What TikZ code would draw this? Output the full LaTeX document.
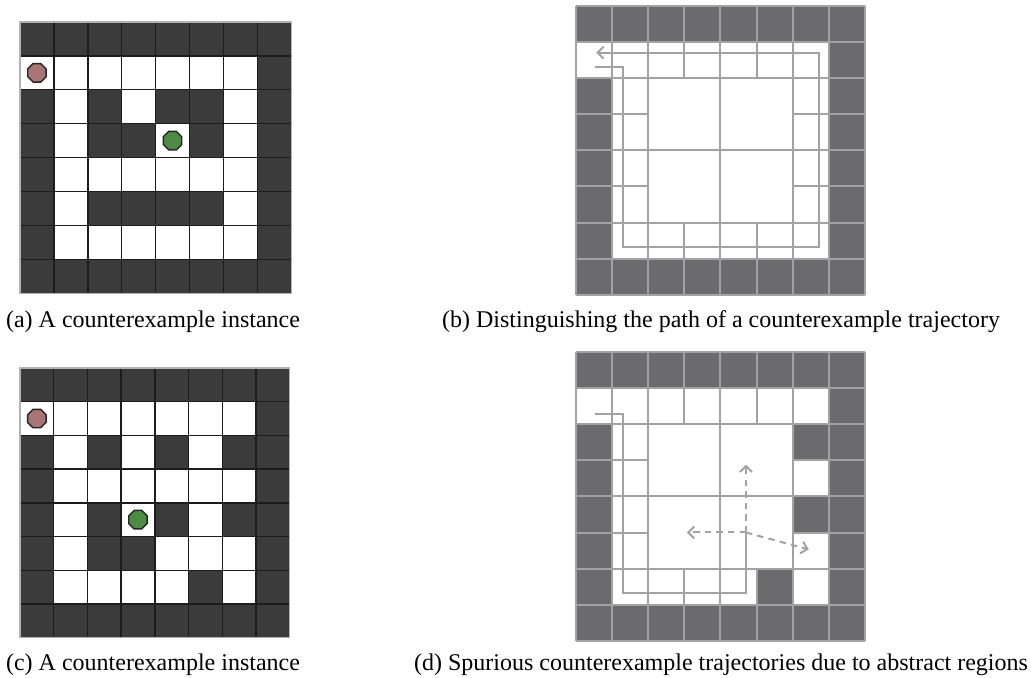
\documentclass[tikz,border=0pt]{standalone}
\usepackage{fontspec}
\setmainfont{Liberation Serif}
\usetikzlibrary{arrows.meta,shapes.geometric}
\definecolor{wallA}{HTML}{3B3B3B}
\definecolor{lineA}{HTML}{1C1C1C}
\definecolor{wallB}{HTML}{6B6B6D}
\definecolor{lineB}{HTML}{A2A2A2}
\definecolor{agentcol}{HTML}{A87474}
\definecolor{goalcol}{HTML}{4E8C45}
\tikzset{
  gridA/.style={draw=lineA,line width=0.7pt},
  gridB/.style={draw=lineB,line width=1pt},
  token/.style={regular polygon,regular polygon sides=8,draw=black!85,line width=0.7pt,minimum size=10pt,inner sep=0pt},
  trail/.style={draw=lineB,line width=1pt},
  guess/.style={draw=lineB,line width=1pt,dash pattern=on 3.2pt off 2.6pt},
  tip/.style={-{Straight Barb[length=3pt,width=6pt]}},
  caption/.style={font=\fontsize{12}{14}\selectfont,inner sep=0pt}
}
\begin{document}
\begin{tikzpicture}[x=0.5pt,y=-0.5pt]
\useasboundingbox (0,0) rectangle (1031,678);
\fill[white] (0,0) rectangle (1031,678);
% (a)
\begin{scope}[shift={(20,22)},scale=33.9]
  \fill[wallA] (0,0) rectangle (8,1) (0,7) rectangle (8,8) (7,1) rectangle (8,7) (0,2) rectangle (1,7);
  \foreach \c/\r in {2/2,4/2,5/2,2/3,3/3,5/3,2/5,3/5,4/5,5/5}
    \fill[wallA] (\c,\r) rectangle ++(1,1);
  \foreach \i in {0,...,8}
    \draw[gridA] (\i,0) -- (\i,8) (0,\i) -- (8,\i);
  \draw[gray!60,line width=0.6pt] (0,0) rectangle (8,8);
  \node[token,fill=agentcol] (agentA) at (0.5,1.5) {};
  \node[token,fill=goalcol] (goalA) at (4.5,3.5) {};
\end{scope}
\node[caption] (capA) at (153,322) {(a) A counterexample instance};
% (c)
\begin{scope}[shift={(20,368)},scale=33.7]
  \fill[wallA] (0,0) rectangle (8,1) (0,7) rectangle (8,8) (7,1) rectangle (8,7) (0,2) rectangle (1,7);
  \foreach \c/\r in {2/2,4/2,6/2,2/4,4/4,6/4,2/5,3/5,5/6}
    \fill[wallA] (\c,\r) rectangle ++(1,1);
  \foreach \i in {0,...,8}
    \draw[gridA] (\i,0) -- (\i,8) (0,\i) -- (8,\i);
  \draw[gray!60,line width=0.6pt] (0,0) rectangle (8,8);
  \node[token,fill=agentcol] (agentC) at (0.5,1.5) {};
  \node[token,fill=goalcol] (goalC) at (3.5,4.5) {};
\end{scope}
\node[caption] (capC) at (153,665) {(c) A counterexample instance};
% (b)
\begin{scope}[shift={(576,6)},scale=36.1]
  \fill[wallB] (0,0) rectangle (8,1) (0,7) rectangle (8,8) (7,1) rectangle (8,7) (0,2) rectangle (1,7);
  \foreach \i in {0,1,2,4,6,7,8}
    \draw[gridB] (\i,0) -- (\i,8) (0,\i) -- (8,\i);
  \foreach \i in {3,5}
    \draw[gridB] (\i,0) -- (\i,2) (\i,6) -- (\i,8) (0,\i) -- (2,\i) (6,\i) -- (8,\i);
  \coordinate (b0) at (0.53,1.69);
  \coordinate (b1) at (1.31,1.69);
  \coordinate (b2) at (1.31,6.67);
  \coordinate (b3) at (6.72,6.67);
  \coordinate (b4) at (6.72,1.29);
  \coordinate (b5) at (0.56,1.29);
  \draw[trail,tip] (b0) -- (b1) -- (b2) -- (b3) -- (b4) -- (b5);
\end{scope}
\node[caption] (capB) at (721,322) {(b) Distinguishing the path of a counterexample trajectory};
% (d)
\begin{scope}[shift={(576,352)},scale=36.1]
  \fill[wallB] (0,0) rectangle (8,1) (0,7) rectangle (8,8) (7,1) rectangle (8,7) (0,2) rectangle (1,7);
  \foreach \c/\r in {6/2,6/4,5/6}
    \fill[wallB] (\c,\r) rectangle ++(1,1);
  \foreach \i in {0,1,2,4,6,7,8}
    \draw[gridB] (\i,0) -- (\i,8) (0,\i) -- (8,\i);
  \foreach \i in {3,5}
    \draw[gridB] (\i,0) -- (\i,2) (\i,6) -- (\i,8) (0,\i) -- (2,\i) (6,\i) -- (8,\i);
  \coordinate (d0) at (0.53,1.71);
  \coordinate (d1) at (1.30,1.71);
  \coordinate (d2) at (1.30,6.68);
  \coordinate (d3) at (4.71,6.68);
  \coordinate (d4) at (4.71,5.0);
  \coordinate (up) at (4.71,3.12);
  \coordinate (left) at (3.07,5.0);
  \coordinate (down) at (6.45,5.47);
  \draw[trail] (d0) -- (d1) -- (d2) -- (d3) -- (d4);
  \draw[guess,tip] (d4) -- (up);
  \draw[guess,tip] (d4) -- (left);
  \draw[guess,tip] (d4) -- (down);
\end{scope}
\node[caption] (capD) at (721,665) {(d) Spurious counterexample trajectories due to abstract regions};
\end{tikzpicture}
\end{document}
